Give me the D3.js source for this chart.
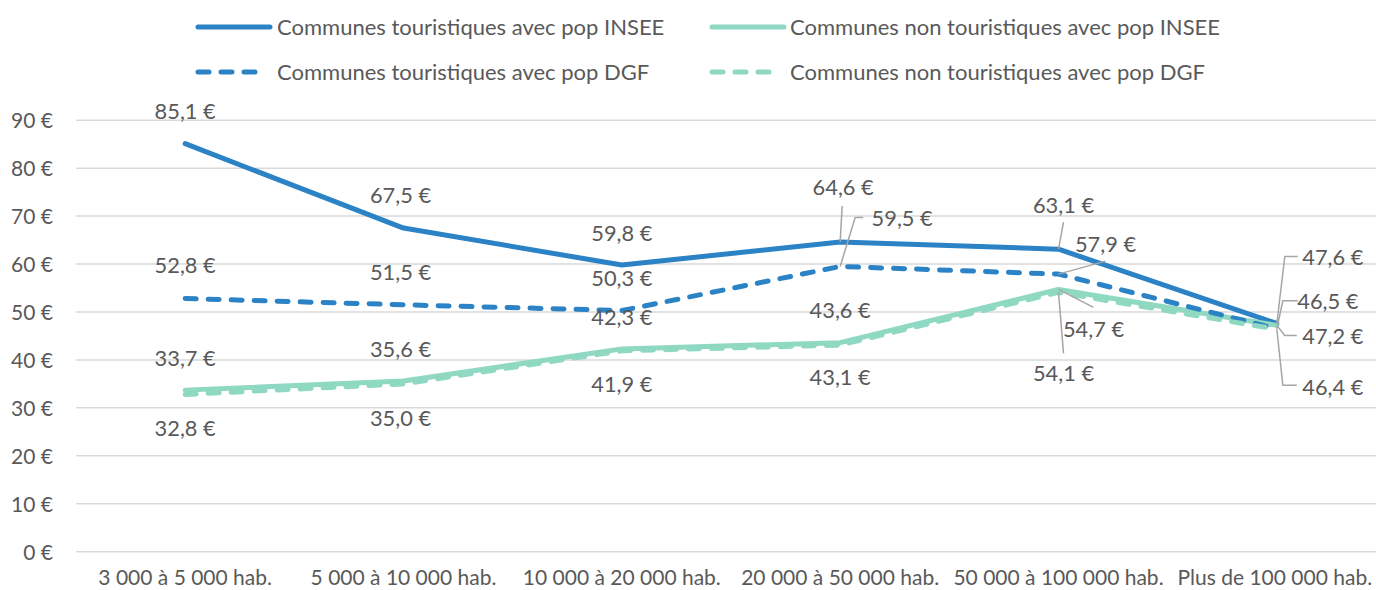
<!DOCTYPE html>
<html><head><meta charset="utf-8">
<script src="https://cdn.jsdelivr.net/npm/d3@7"></script>
<style>
html,body{margin:0;padding:0;background:#fff;}
svg text{font-family:Lato,"Open Sans",sans-serif;fill:#595959;}
</style></head>
<body>
<svg id="chart" width="1376" height="590"></svg>
<script>
const categories = ["3 000 à 5 000 hab.","5 000 à 10 000 hab.","10 000 à 20 000 hab.","20 000 à 50 000 hab.","50 000 à 100 000 hab.","Plus de 100 000 hab."];
const touristiquesINSEE = [85.1, 67.5, 59.8, 64.6, 63.1, 47.6];
const nonTouristiquesINSEE = [33.7, 35.6, 42.3, 43.6, 54.7, 47.2];
const touristiquesDGF = [52.8, 51.5, 50.3, 59.5, 57.9, 46.5];
const nonTouristiquesDGF = [32.8, 35.0, 41.9, 43.1, 54.1, 46.4];
const seriesNames = ["Communes touristiques avec pop INSEE","Communes non touristiques avec pop INSEE","Communes touristiques avec pop DGF","Communes non touristiques avec pop DGF"];
const yTicks = [0,10,20,30,40,50,60,70,80,90];

// label placement (layout, relative to point): [dx, dy, leaderPoints]
const labelLayout = [
  [[0,-32],[-3,-33],[0,-32],[3,-55,[[2,-36]]],[5,-44,[[5,-27]]],[56,-66,[[21,-67],[8,-67]]]],
  [[0,-32],[-3,-32],[0,-32],[0,-32],[35,40,[[35,18]]],[56,11,[[20,10],[8,10]]]],
  [[0,-33],[-3,-32],[0,-32],[62,-48,[[23,-49],[15,-49]]],[47,-30,[[47,-13]]],[51,-27,[[21,-28],[6,-28]]]],
  [[0,34],[-3,34],[0,34],[0,32],[5,81,[[5,61]]],[56,58,[[20,56],[6,56]]]]
];

const allSeries = [touristiquesINSEE, nonTouristiquesINSEE, touristiquesDGF, nonTouristiquesDGF];
const colors = ["#2b83c6","#8fd8c1","#2b83c6","#8fd8c1"];
const dashed = [false,false,true,true];

const svg = d3.select("#chart");
const x = d3.scaleBand().domain(categories).range([76, 1386]).paddingInner(0).paddingOuter(0);
const y = d3.scaleLinear().domain([0,90]).range([551.7, 120.2]);
const cx = c => x(c) + x.bandwidth()/2;

// gridlines
svg.append("g").selectAll("line").data(yTicks).join("line")
  .attr("x1",76).attr("x2",1386)
  .attr("y1",d=>y(d)).attr("y2",d=>y(d))
  .attr("stroke","#d9d9d9").attr("stroke-width",1.5);

// y axis labels
const yAxis = d3.axisLeft(y).tickValues(yTicks).tickFormat(d=>d+" €").tickSize(0).tickPadding(0);
const ga = svg.append("g").attr("transform","translate(53,0)").call(yAxis);
ga.select(".domain").remove();
ga.selectAll("text").attr("font-size",21).attr("font-family","Lato").attr("fill","#595959").attr("dy","0.35em");

// x axis labels
const xAxis = d3.axisBottom(x).tickSize(0).tickPadding(0);
const gx = svg.append("g").attr("transform","translate(0,571)").call(xAxis);
gx.select(".domain").remove();
gx.selectAll("text").attr("font-size",21).attr("font-family","Lato").attr("fill","#595959").attr("dy","0.35em").attr("y",7)
  .attr("dx",(d,i)=> i===categories.length-1 ? -2 : 0);

// lines
const line = d3.line().x((d,i)=>cx(categories[i])).y(d=>y(d));
allSeries.forEach((s,k)=>{
  svg.append("path").datum(s).attr("d",line)
    .attr("fill","none").attr("stroke",colors[k]).attr("stroke-width",5)
    .attr("stroke-linejoin","round").attr("stroke-linecap","round")
    .attr("stroke-dasharray",dashed[k]?"11 12":null);
});

// leaders and labels
const fmt = v => v.toFixed(1).replace(".",",") + " €";
allSeries.forEach((s,k)=>{
  s.forEach((v,i)=>{
    const px = cx(categories[i]), py = y(v);
    const L = labelLayout[k][i];
    if (L[2]) {
      const pts = L[2].map(p=>[px+p[0],py+p[1]]).concat([[px,py]]);
      svg.append("path").attr("d",d3.line()(pts)).attr("fill","none")
        .attr("stroke","#a6a6a6").attr("stroke-width",1.5);
    }
    svg.append("text").attr("x",px+L[0]).attr("y",py+L[1]).attr("dy","0.35em")
      .attr("text-anchor","middle").attr("font-size",21.8).text(fmt(v));
  });
});

// legend
const legendPos = [[198,27],[712,27],[198,72],[712,72]];
seriesNames.forEach((name,k)=>{
  const [lx,ly] = legendPos[k];
  svg.append("line").attr("x1",lx).attr("x2",lx+(dashed[k]?64:72)).attr("y1",ly).attr("y2",ly)
    .attr("stroke",colors[k]).attr("stroke-width",5).attr("stroke-linecap","round")
    .attr("stroke-dasharray",dashed[k]?"11 12":null);
  svg.append("text").attr("x",lx+(k%2===0?79:78)).attr("y",ly).attr("dy","0.35em")
    .attr("font-size",22).text(name);
});
</script>
</body></html>
